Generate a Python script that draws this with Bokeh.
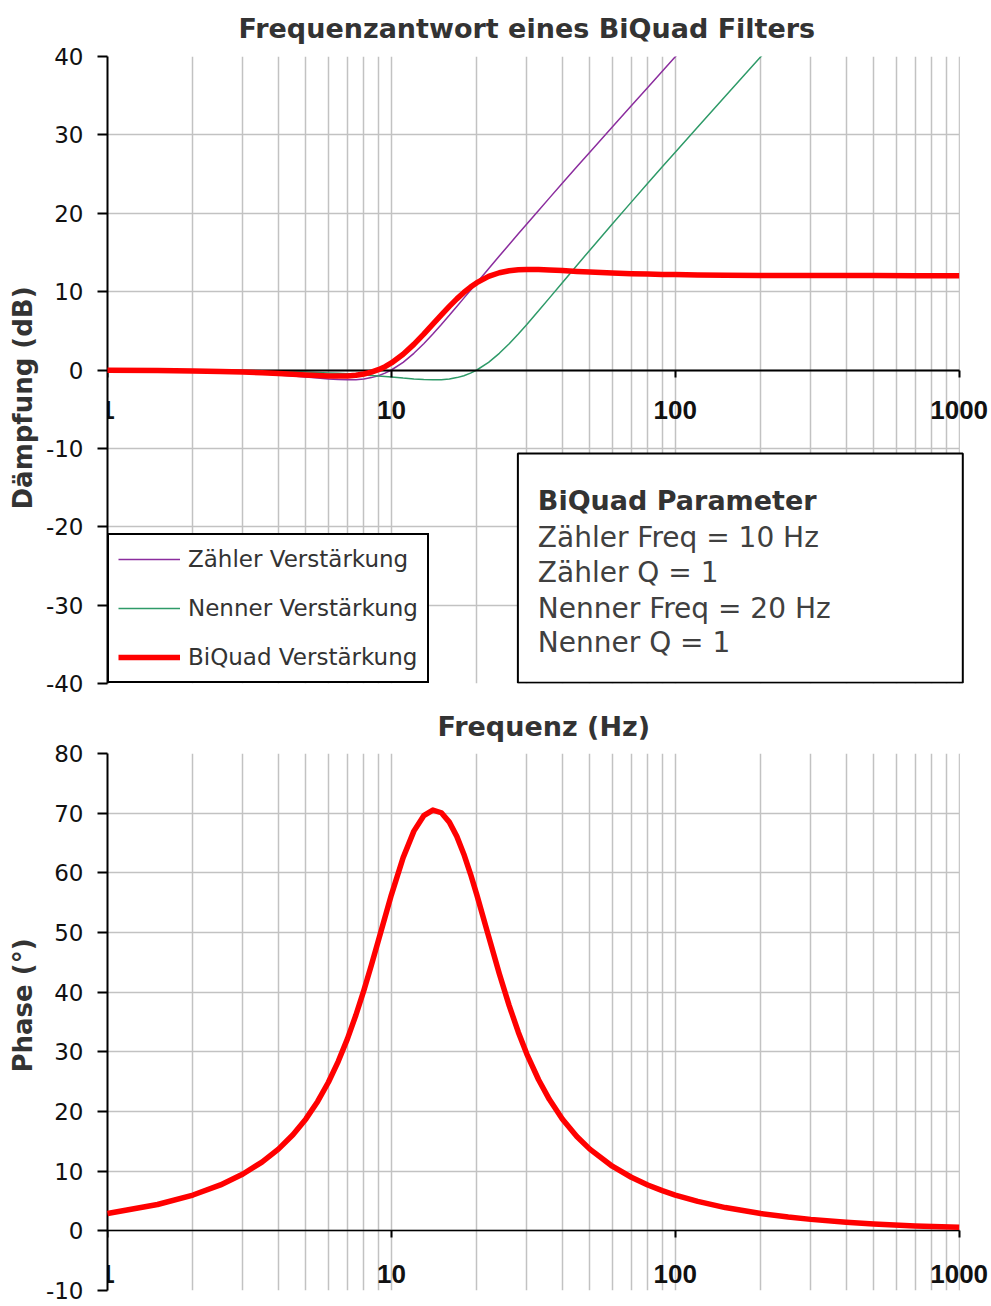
from bokeh.plotting import figure
from bokeh.models import (Range1d, FixedTicker, CustomJSTickFormatter, Legend, LegendItem,
                          BoxAnnotation, Label, Title)
from bokeh.layouts import column
from bokeh.embed import file_html
from bokeh.resources import INLINE

# ---------------- data ----------------
freq_hz = [1, 1.5, 2, 2.5, 3, 3.5, 4, 4.5, 5, 5.5,
           6, 6.5, 7, 7.5, 8, 8.5, 9, 9.5, 10,
           11, 12, 13, 14, 15, 16, 17, 18, 19, 20,
           22, 24, 26, 28, 30, 33, 36, 40, 45, 50,
           60, 70, 80, 90, 100, 120, 150, 200, 250, 300,
           400, 500, 700, 1000]

zaehler_db = [-0.04, -0.10, -0.17, -0.26, -0.37, -0.49, -0.63, -0.77, -0.90, -1.03,
              -1.14, -1.21, -1.25, -1.23, -1.14, -0.97, -0.73, -0.40, 0.00,
              0.98, 2.13, 3.36, 4.60, 5.81, 6.98, 8.10, 9.17, 10.18, 11.14,
              12.92, 14.54, 16.01, 17.37, 18.63, 20.36, 21.93, 23.82, 25.92, 27.79,
              31.01, 33.72, 36.06, 38.12, 39.96, 43.14, 47.02, 52.03, 55.91, 59.08,
              64.08, 67.96, 73.80, 80.00]

nenner_db = [-0.01, -0.02, -0.04, -0.07, -0.10, -0.13, -0.17, -0.21, -0.26, -0.31,
             -0.37, -0.43, -0.49, -0.56, -0.63, -0.70, -0.77, -0.83, -0.90,
             -1.03, -1.14, -1.21, -1.25, -1.23, -1.14, -0.97, -0.73, -0.40, 0.00,
             0.98, 2.13, 3.36, 4.60, 5.81, 7.55, 9.17, 11.14, 13.34, 15.29,
             18.63, 21.42, 23.82, 25.92, 27.79, 31.01, 34.93, 39.96, 43.85, 47.02,
             52.03, 55.91, 61.76, 67.96]

biquad_db = [-0.03, -0.07, -0.13, -0.20, -0.27, -0.36, -0.46, -0.55, -0.64, -0.71,
             -0.77, -0.78, -0.76, -0.67, -0.51, -0.28, 0.04, 0.43, 0.90,
             2.01, 3.27, 4.57, 5.85, 7.04, 8.12, 9.08, 9.89, 10.58, 11.14,
             11.94, 12.41, 12.66, 12.78, 12.82, 12.81, 12.76, 12.68, 12.58, 12.50,
             12.37, 12.29, 12.24, 12.20, 12.17, 12.13, 12.10, 12.07, 12.06, 12.06,
             12.05, 12.05, 12.04, 12.04]

phase_deg = [2.90, 4.41, 6.00, 7.69, 9.53, 11.52, 13.69, 16.10, 18.76, 21.69,
             24.90, 28.41, 32.17, 36.17, 40.31, 44.50, 48.65, 52.61, 56.31,
             62.55, 66.99, 69.58, 70.52, 70.07, 68.50, 66.11, 63.13, 59.80, 56.31,
             49.38, 43.10, 37.75, 33.30, 29.63, 25.32, 22.04, 18.76, 15.82, 13.69,
             10.83, 8.98, 7.69, 6.74, 6.00, 4.93, 3.90, 2.90, 2.31, 1.92,
             1.44, 1.14, 0.82, 0.58]

x_major_ticks = [1, 10, 100, 1000]
x_minor_ticks = [2, 3, 4, 5, 6, 7, 8, 9,
                 20, 30, 40, 50, 60, 70, 80, 90,
                 200, 300, 400, 500, 600, 700, 800, 900]
gain_ticks = [-40, -30, -20, -10, 0, 10, 20, 30, 40]
phase_ticks = [-10, 0, 10, 20, 30, 40, 50, 60, 70, 80]

series_names = ["Zähler Verstärkung", "Nenner Verstärkung", "BiQuad Verstärkung"]
param_title = "BiQuad Parameter"
param_lines = ["Zähler Freq = 10 Hz", "Zähler Q = 1", "Nenner Freq = 20 Hz", "Nenner Q = 1"]

# ---------------- styling ----------------
FONT = "DejaVu Sans"
XFONT = "Liberation Sans"
GRID = "#c2c2c2"
PURPLE = "#8B2D9E"
GREEN = "#2E9A68"
RED = "#FF0000"
W = 991
X_FIRST = x_major_ticks[0]
X_LAST = x_major_ticks[-1]
# the frame is stretched a little past the last decade so that the last tick
# label ("1000") is not clipped; that extra strip is blanked out
X_VIEW_END = 1300


def style(p, y_ticks, zero_width, x_standoff, title_offset, title_standoff,
          ylabel, ylabel_offset):
    p.background_fill_color = "white"
    p.border_fill_color = "white"
    p.outline_line_color = None

    xt = FixedTicker(ticks=x_major_ticks, minor_ticks=x_minor_ticks)
    yt = FixedTicker(ticks=y_ticks)

    p.xgrid.ticker = xt
    p.ygrid.ticker = yt
    p.xgrid.grid_line_color = GRID
    p.xgrid.grid_line_width = 1.5
    p.xgrid.minor_grid_line_color = GRID
    p.xgrid.minor_grid_line_width = 1.5
    p.ygrid.grid_line_color = GRID
    p.ygrid.grid_line_width = 1.5

    # white strip right of the last decade (hides grid lines there)
    p.add_layout(BoxAnnotation(left=X_LAST * 1.006, fill_color="white", fill_alpha=1.0,
                               line_color=None, level="underlay"))

    xa = p.xaxis[0]
    xa.ticker = xt
    xa.bounds = (X_FIRST, X_LAST)
    xa.formatter = CustomJSTickFormatter(args=dict(last=X_LAST),
                                         code="return tick >= last ? '' : String(tick);")
    xa.fixed_location = 0
    xa.axis_line_color = "black"
    xa.axis_line_width = zero_width
    xa.major_tick_in = 0
    xa.major_tick_out = 7
    xa.major_tick_line_width = 2
    xa.major_tick_line_color = "black"
    xa.minor_tick_line_color = None
    xa.major_label_text_font = XFONT
    xa.major_label_text_font_style = "bold"
    xa.major_label_text_font_size = "26px"
    xa.major_label_text_color = "#111111"
    xa.major_label_standoff = x_standoff

    p.add_layout(Label(x=X_LAST, y=0, y_offset=-(7 + x_standoff), text=str(X_LAST),
                       text_align="center", text_baseline="top",
                       text_font=XFONT, text_font_style="bold", text_font_size="26px",
                       text_color="#111111"))

    ya = p.yaxis[0]
    ya.ticker = yt
    ya.formatter = CustomJSTickFormatter(code="return String(tick);")
    ya.axis_line_color = "black"
    ya.axis_line_width = 2
    ya.major_tick_in = 0
    ya.major_tick_out = 10
    ya.major_tick_line_width = 2
    ya.minor_tick_line_color = None
    ya.major_label_text_font = FONT
    ya.major_label_text_font_size = "23px"
    ya.major_label_text_color = "#111111"
    ya.major_label_standoff = 14

    # y axis title (as a side title so that it can be shifted along the axis)
    p.add_layout(Title(text=ylabel, align="left", offset=ylabel_offset,
                       standoff=9, vertical_align="bottom",
                       text_font=FONT, text_font_style="bold", text_font_size="26px",
                       text_color="#333333"), "left")

    p.title.text_font = FONT
    p.title.text_font_style = "bold"
    p.title.text_font_size = "27px"
    p.title.text_color = "#333333"
    p.title.align = "left"
    p.title.offset = title_offset
    p.title.vertical_align = "top"
    p.title.standoff = title_standoff


# ---------------- top: magnitude ----------------
p1 = figure(width=W, height=700, x_axis_type="log",
            x_range=Range1d(X_FIRST, X_VIEW_END), y_range=Range1d(-40, 40),
            title="Frequenzantwort eines BiQuad Filters",
            output_backend="svg", toolbar_location=None,
            min_border_left=107, min_border_right=0,
            min_border_top=56, min_border_bottom=17)
style(p1, gain_ticks, 2, 24, 131, 22, "Dämpfung (dB)", 174)

r_z = p1.line(freq_hz, zaehler_db, line_color=PURPLE, line_width=1.5)
r_n = p1.line(freq_hz, nenner_db, line_color=GREEN, line_width=1.5)
r_b = p1.line(freq_hz, biquad_db, line_color=RED, line_width=5.5,
              line_join="round", level="overlay")

legend = Legend(items=[LegendItem(label=series_names[0], renderers=[r_z]),
                       LegendItem(label=series_names[1], renderers=[r_n]),
                       LegendItem(label=series_names[2], renderers=[r_b])],
                location=(0, 0), orientation="vertical",
                label_text_font=FONT, label_text_font_size="23px",
                label_text_color="#333333",
                glyph_width=62, glyph_height=30, label_height=30,
                label_standoff=8, padding=9, spacing=19, margin=0,
                border_line_color="black", border_line_width=2, border_line_alpha=1.0,
                background_fill_color="white", background_fill_alpha=1.0)
p1.add_layout(legend)

box = BoxAnnotation(left=27.9, right=1030, top=-10.65, bottom=-39.9,
                    fill_color="white", fill_alpha=1.0,
                    line_color="black", line_alpha=1.0, line_width=2, level="annotation")
p1.add_layout(box)

p1.add_layout(Label(x=32.8, y=-16.65, text=param_title, text_baseline="middle",
                    text_font=FONT, text_font_style="bold", text_font_size="27px",
                    text_color="#333333"))
for txt, yy in zip(param_lines, [-21.4, -25.8, -30.4, -34.8]):
    p1.add_layout(Label(x=32.8, y=yy, text=txt, text_baseline="middle",
                        text_font=FONT, text_font_size="28px",
                        text_color="#404040"))

# ---------------- bottom: phase ----------------
p2 = figure(width=W, height=605, x_axis_type="log",
            x_range=Range1d(X_FIRST, X_VIEW_END), y_range=Range1d(-10, 80),
            title="Frequenz (Hz)",
            output_backend="svg", toolbar_location=None,
            min_border_left=107, min_border_right=0,
            min_border_top=53, min_border_bottom=15)
style(p2, phase_ticks, 1.5, 27, 330, 19, "Phase (°)", 218)
p2.line(freq_hz, phase_deg, line_color=RED, line_width=5.5,
        line_join="round", level="overlay")

layout = column(p1, p2, spacing=0)
open("out.html", "w").write(file_html(layout, INLINE))
